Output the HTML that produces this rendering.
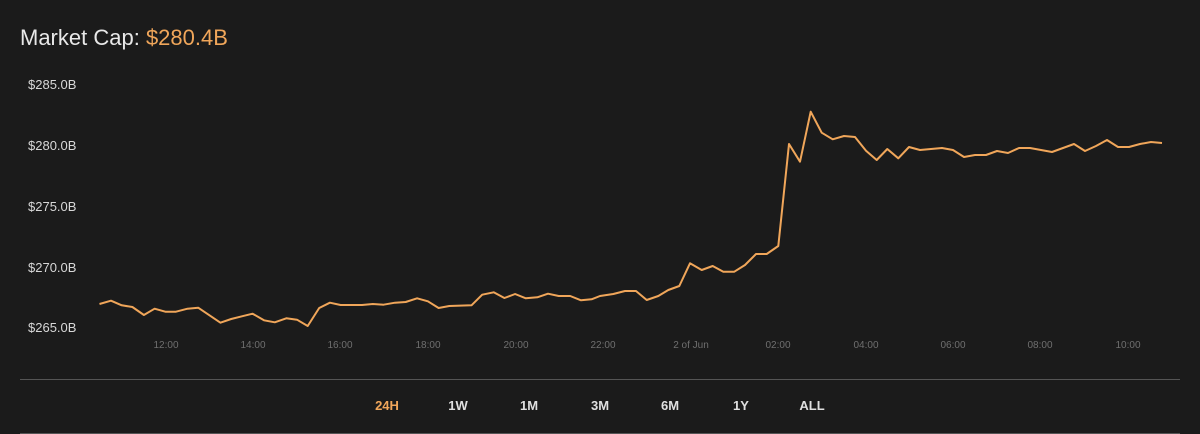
<!DOCTYPE html>
<html><head><meta charset="utf-8"><style>
body{margin:0;width:1200px;height:434px;background:#1b1b1b;overflow:hidden;font-family:"Liberation Sans",sans-serif}
</style></head><body>
<svg width="1200" height="434" xmlns="http://www.w3.org/2000/svg" style="position:absolute;left:0;top:0">
<rect width="1200" height="434" fill="#1b1b1b"/>
<text x="20" y="45" font-size="22" fill="#e8e8e8" font-family="Liberation Sans,sans-serif">Market Cap: <tspan fill="#f0a65a">$280.4B</tspan></text>
<g font-size="13" fill="#d8d8d8" font-family="Liberation Sans,sans-serif">
<text x="28" y="89">$285.0B</text>
<text x="28" y="150">$280.0B</text>
<text x="28" y="211">$275.0B</text>
<text x="28" y="272">$270.0B</text>
<text x="28" y="332">$265.0B</text>
</g>
<g font-size="10" fill="#6f6f6f" text-anchor="middle" font-family="Liberation Sans,sans-serif">
<text x="166" y="348">12:00</text><text x="253" y="348">14:00</text><text x="340" y="348">16:00</text>
<text x="428" y="348">18:00</text><text x="516" y="348">20:00</text><text x="603" y="348">22:00</text>
<text x="691" y="348">2 of Jun</text><text x="778" y="348">02:00</text><text x="866" y="348">04:00</text>
<text x="953" y="348">06:00</text><text x="1040" y="348">08:00</text><text x="1128" y="348">10:00</text>
</g>
<polyline fill="none" stroke="#f0a65a" stroke-width="2" stroke-linejoin="round" points="99.5,304 111,300.7 121.7,305.3 132.4,307 143.9,315 154.6,308.7 165.3,311.7 176,311.7 187.5,308.7 198.2,307.7 220.4,322.7 231.2,319 241.9,316.3 252.6,313.7 264,320.3 274.8,322.3 286.3,318.3 297,319.7 307.7,326 319.2,308 329.9,302.7 340.6,305 362,305 372.8,304 383.5,304.7 395,302.7 405.7,302 417.1,298.3 427.9,301.3 438.6,308 449.3,306 471.5,305.3 482.2,294.7 493.7,292.3 504.4,298 515.1,294 525.8,298.3 537.3,297.3 548,293.7 558.7,296 570.2,296 581,300.3 591.6,299.3 600,296 613.3,294 625,291 636,291 646.7,300 658.3,296 668.3,290 679.3,286 690,263.3 701.7,270 712.7,266 723.3,271.7 734.3,271.7 745,265 756,254 766.7,254 778.3,246 789,144 800,161.7 810.7,111.7 821.7,132.7 832.7,139.3 844,136 855,137 866,150.7 876.7,160 887.3,149 898.3,158.3 909,147 920,150 931,149 942,148 953,150 964,157 975,155 986,155 997,151 1008,153 1019,148 1030,148 1041,150 1052,152 1063,148 1074,144 1085,151 1096,146 1107,140 1118,147 1129,147 1140,144 1151,142 1162,143"/>
<line x1="20" y1="379.5" x2="1180" y2="379.5" stroke="#555" stroke-width="1"/>
<line x1="20" y1="433.5" x2="1180" y2="433.5" stroke="#555" stroke-width="1"/>
<g font-size="13" font-weight="bold" fill="#e0e0e0" text-anchor="middle" font-family="Liberation Sans,sans-serif">
<text x="387" y="410" fill="#f0a65a">24H</text><text x="458" y="410">1W</text><text x="529" y="410">1M</text>
<text x="600" y="410">3M</text><text x="670" y="410">6M</text><text x="741" y="410">1Y</text><text x="812" y="410">ALL</text>
</g>
</svg>
</body></html>
